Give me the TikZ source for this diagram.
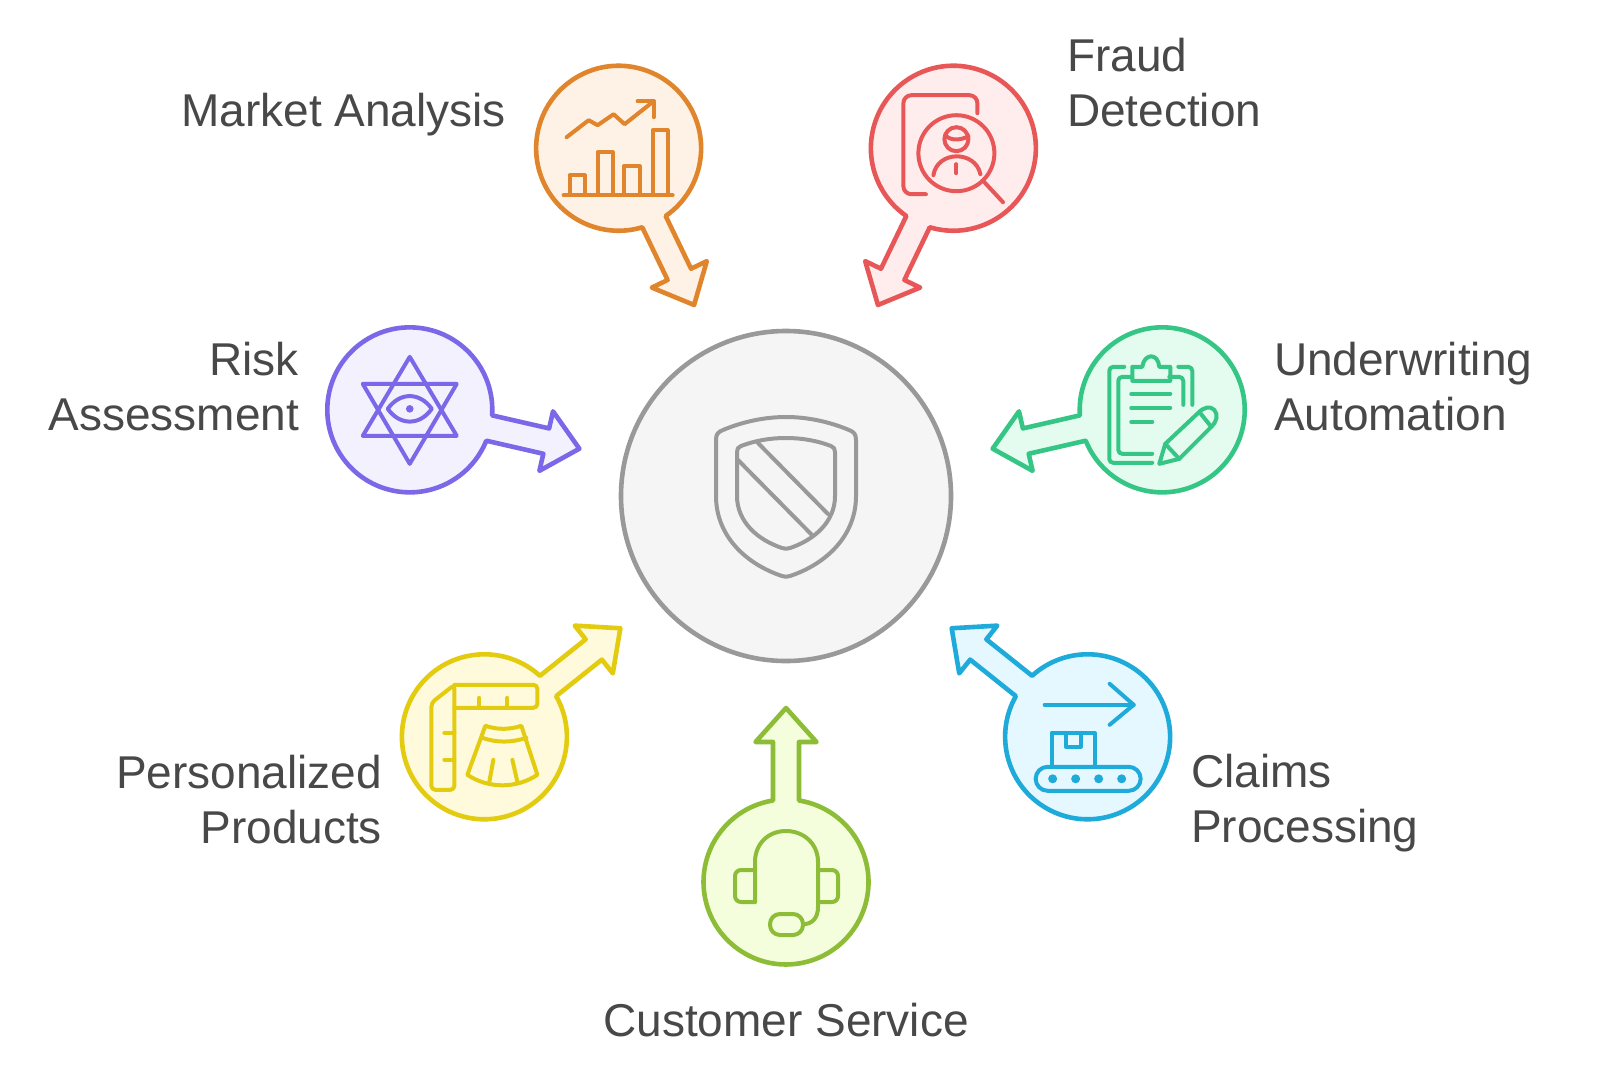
\documentclass[tikz,border=0pt]{standalone}
\usepackage{fontspec}
\setmainfont{Liberation Sans}
\definecolor{txt}{HTML}{484848}
\definecolor{cO}{HTML}{E0852B}\definecolor{fO}{HTML}{FEF2E6}
\definecolor{cR}{HTML}{E85757}\definecolor{fR}{HTML}{FFECEC}
\definecolor{cP}{HTML}{7B68E8}\definecolor{fP}{HTML}{F3F1FE}
\definecolor{cG}{HTML}{35C585}\definecolor{fG}{HTML}{E3FCEF}
\definecolor{cY}{HTML}{E3CB0F}\definecolor{fY}{HTML}{FFFADB}
\definecolor{cB}{HTML}{1EABDA}\definecolor{fB}{HTML}{E6F8FF}
\definecolor{cL}{HTML}{8DBD36}\definecolor{fL}{HTML}{F4FEDD}
\definecolor{cH}{HTML}{999999}\definecolor{fH}{HTML}{F5F5F5}
\tikzset{
  satshape/.style={line width=2.3pt,line join=round},
  icon/.style={line width=2pt,line cap=round,line join=round},
  lab/.style={text=txt,font=\fontsize{23}{27.5}\selectfont,inner sep=0pt,outer sep=0pt},
}
\newcommand{\satellite}[3]{%
  \draw[satshape,draw=#2,fill=#3,shift={(786,496)},rotate=#1]
    (212,0) -- (246,30.5) -- (246,13) -- (304.5,13)
    arc[start angle=170.93,end angle=-170.93,radius=82.5]
    -- (246,-13) -- (246,-30.5) -- cycle;}
\begin{document}
\begin{tikzpicture}[x=.5pt,y=-.5pt]
\useasboundingbox (0,0) rectangle (1600,1076);
\fill[white] (0,0) rectangle (1600,1076);
\coordinate (market) at ({786+386*cos(115.7)},{496-386*sin(115.7)});
\coordinate (fraud) at ({786+386*cos(64.3)},{496-386*sin(64.3)});
\coordinate (risk) at ({786+386*cos(167.1)},{496-386*sin(167.1)});
\coordinate (under) at ({786+386*cos(12.9)},{496-386*sin(12.9)});
\coordinate (perso) at ({786+386*cos(218.6)},{496-386*sin(218.6)});
\coordinate (claims) at ({786+386*cos(321.4)},{496-386*sin(321.4)});
\coordinate (service) at (786,882);
\satellite{115.7}{cO}{fO}
\satellite{64.3}{cR}{fR}
\satellite{167.1}{cP}{fP}
\satellite{12.9}{cG}{fG}
\satellite{218.6}{cY}{fY}
\satellite{321.4}{cB}{fB}
\satellite{270}{cL}{fL}
\node[circle,draw=cH,fill=fH,line width=2.3pt,minimum size=165pt,inner sep=0pt] (hub) at (786,496) {};
% hub shield
\begin{scope}[shift={(hub.center)},icon,draw=cH]
  \draw (0,-79) .. controls (22,-79) and (44,-74) .. (63,-66) .. controls (68,-64) and (70,-62) .. (70,-56)
    -- (70,0) .. controls (70,40) and (40,68) .. (4,80) .. controls (1,81) and (-1,81) .. (-4,80)
    .. controls (-40,68) and (-70,40) .. (-70,0) -- (-70,-56) .. controls (-70,-62) and (-68,-64) .. (-63,-66)
    .. controls (-44,-74) and (-22,-79) .. (0,-79) -- cycle;
  \draw (0,-58) .. controls (17,-58) and (32,-55) .. (45,-50) .. controls (48,-49) and (49,-47) .. (49,-44)
    -- (49,0) .. controls (49,26) and (28,44) .. (4,52) .. controls (1,53) and (-1,53) .. (-4,52)
    .. controls (-28,44) and (-49,26) .. (-49,0) -- (-49,-44) .. controls (-49,-47) and (-48,-49) .. (-45,-50)
    .. controls (-32,-55) and (-17,-58) .. (0,-58) -- cycle;
  \draw (-28,-53) -- (42,18);
  \draw (-48,-36) -- (26,39);
\end{scope}
% market icon
\begin{scope}[shift={(market)},icon,draw=cO]
  \draw (-52,-11) -- (-30,-28) -- (-21,-23) -- (-5,-34) -- (6,-24) -- (35,-47);
  \draw (19,-47) -- (35,-47) -- (35,-31);
  \draw (-55,47) -- (54,47);
  \draw (-49,47) -- (-49,27) -- (-34,27) -- (-34,47);
  \draw (-21,47) -- (-21,4) -- (-6,4) -- (-6,47);
  \draw (5,47) -- (5,18) -- (21,18) -- (21,47);
  \draw (34,47) -- (34,-18) -- (49,-18) -- (49,47);
\end{scope}
% fraud icon
\begin{scope}[shift={(fraud)},icon,draw=cR]
  \draw[rounded corners=4pt] (24,-35) -- (24,-53) -- (-50,-53) -- (-50,46) -- (-27.5,46);
  \draw (3,5) circle[radius=38];
  \draw (31,34) -- (49.6,54);
  \draw (3,-9) circle[radius=12];
  \draw (-8,-13) .. controls (-3,-7) and (8,-8) .. (15,-12);
  \draw (-20,27) .. controls (-16,2) and (22,2) .. (27,26);
  \draw (3,16) -- (3,25);
\end{scope}
% risk icon
\begin{scope}[shift={(risk)},icon,draw=cP]
  \draw (0,-53) -- (-47,26) -- (47,26) -- cycle;
  \draw (0,54) -- (-47,-26) -- (47,-26) -- cycle;
  \draw (-22,-1) .. controls (-10,-18) and (10,-18) .. (22,-1) .. controls (10,16) and (-10,16) .. (-22,-1) -- cycle;
  \fill[cP] (0,-1) circle[radius=3.8];
\end{scope}
% underwriting icon
\begin{scope}[shift={(under)},icon,draw=cG]
  \draw[rounded corners=2pt] (-38,-43) -- (-53,-43) -- (-53,53) -- (-10,53);
  \draw[rounded corners=2pt] (16,-43) -- (30,-43) -- (30,-5);
  \draw[rounded corners=2pt] (-30,-33) -- (-44,-33) -- (-44,44) -- (-10,44);
  \draw[rounded corners=2pt] (7,-33) -- (21,-33) -- (21,-5);
  \draw (-30,-29) -- (-30,-43) -- (-20,-43) .. controls (-18,-57) and (-4,-57) .. (-3,-43) -- (8,-43) -- (8,-29) -- cycle;
  \draw (-31,-16) -- (8,-16);
  \draw (-31,-2) -- (8,-2);
  \draw (-31,12) -- (-10,12);
  \draw (-3,54) -- (3,34) -- (36,3) .. controls (42,-3) and (48,-4) .. (52,0) .. controls (56,5) and (55,11) .. (49,17) -- (17,49) -- cycle;
  \draw (37,2) -- (49,17);
  \draw (3,34) -- (17,49);
\end{scope}
% personalized icon
\begin{scope}[shift={(perso)},icon,draw=cY]
  \draw[rounded corners=2pt] (-30,-52) -- (53,-52) -- (53,-29) -- (-30,-29);
  \draw[rounded corners=2pt] (-30,-52) -- (-53,-34) -- (-53,53) -- (-30,53) -- cycle;
  \draw (-5,-29) -- (-5,-39);
  \draw (23,-29) -- (23,-39);
  \draw (-30,-4) -- (-40,-4);
  \draw (-30,23) -- (-40,23);
  \draw (1,-11) .. controls (13,-7) and (25,-7) .. (37,-11) -- (53,38) .. controls (32,52) and (4,52) .. (-17,38) -- cycle;
  \draw (-2,1) .. controls (12,6) and (27,6) .. (42,1);
  \draw (9,23) -- (5,45);
  \draw (28,23) -- (33,45);
\end{scope}
% claims icon
\begin{scope}[shift={(claims)},icon,draw=cB]
  \draw (-43,-32) -- (46,-32);
  \draw (22,-53) -- (46,-32) -- (22,-12);
  \draw (-36,29) -- (-36,-4) -- (7,-4) -- (7,29);
  \draw (-22,-4) -- (-22,10) -- (-7,10) -- (-7,-4);
  \draw[rounded corners=6pt] (-52,30) rectangle (53,54);
  \foreach \xd in {-35,-12,11,34} {\fill[cB] (\xd,42) circle[radius=4.5];}
\end{scope}
% service icon
\begin{scope}[shift={(service)},icon,draw=cL]
  \draw (-31,20) -- (-31,-20) .. controls (-31,-38) and (-18,-51) .. (0,-51) .. controls (18,-51) and (32,-38) .. (32,-20) -- (32,25) .. controls (32,36) and (26,42) .. (18,42);
  \draw[rounded corners=3pt] (-31,-12) -- (-51,-12) -- (-51,20) -- (-31,20);
  \draw[rounded corners=3pt] (32,-12) -- (52,-12) -- (52,20) -- (32,20);
  \draw[rounded corners=5pt] (-16,32) rectangle (17,53);
\end{scope}
% labels
\node[lab,anchor=base east] (lmarket) at (506,126) {Market Analysis};
\node[lab,anchor=west,align=left] (lfraud) at (1067,83) {Fraud\\Detection};
\node[lab,anchor=east,align=right] (lrisk) at (299,387) {Risk\\Assessment};
\node[lab,anchor=west,align=left] (lunder) at (1274,387) {Underwriting\\Automation};
\node[lab,anchor=east,align=right] (lperso) at (382,800) {Personalized\\Products};
\node[lab,anchor=west,align=left] (lclaims) at (1191,803) {Claims\\Processing};
\node[lab,anchor=base] (lservice) at (786,1036) {Customer Service};
\end{tikzpicture}
\end{document}
